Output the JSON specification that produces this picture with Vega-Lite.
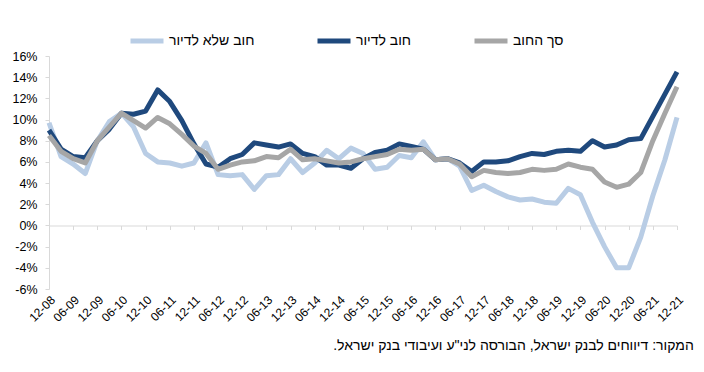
{
  "$schema": "https://vega.github.io/schema/vega-lite/v6.json",
  "width": 628,
  "height": 233,
  "autosize": {"type": "none"},
  "padding": {"left": 49, "top": 56, "right": 27, "bottom": 83},
  "background": "white",
  "config": {"view": {"stroke": null}, "font": "Liberation Sans"},
  "title": {
    "text": "המקור: דיווחים לבנק ישראל, הבורסה לני\"ע ועיבודי בנק ישראל.‏",
    "orient": "bottom",
    "anchor": "end",
    "fontSize": 14,
    "fontWeight": "normal",
    "font": "Liberation Sans",
    "color": "black",
    "offset": 16,
    "dx": 9
  },
  "data": {
    "values": [
      {"q": "12-08", "n": 9.7, "h": 9.0, "t": 8.5},
      {"q": "03-09", "n": 6.5, "h": 7.2, "t": 7.0},
      {"q": "06-09", "n": 5.8, "h": 6.5, "t": 6.3},
      {"q": "09-09", "n": 4.9, "h": 6.4, "t": 5.9},
      {"q": "12-09", "n": 8.0, "h": 8.0, "t": 8.0},
      {"q": "03-10", "n": 9.8, "h": 9.1, "t": 9.3},
      {"q": "06-10", "n": 10.6, "h": 10.6, "t": 10.6},
      {"q": "09-10", "n": 9.3, "h": 10.5, "t": 9.9},
      {"q": "12-10", "n": 6.8, "h": 10.8, "t": 9.2},
      {"q": "03-11", "n": 6.0, "h": 12.8, "t": 10.2},
      {"q": "06-11", "n": 5.9, "h": 11.7, "t": 9.6},
      {"q": "09-11", "n": 5.6, "h": 9.9, "t": 8.6},
      {"q": "12-11", "n": 5.9, "h": 7.7, "t": 7.5},
      {"q": "03-12", "n": 7.8, "h": 5.8, "t": 6.8},
      {"q": "06-12", "n": 4.8, "h": 5.5, "t": 5.3},
      {"q": "09-12", "n": 4.7, "h": 6.3, "t": 5.7},
      {"q": "12-12", "n": 4.8, "h": 6.7, "t": 6.0},
      {"q": "03-13", "n": 3.4, "h": 7.8, "t": 6.1},
      {"q": "06-13", "n": 4.7, "h": 7.6, "t": 6.5},
      {"q": "09-13", "n": 4.8, "h": 7.4, "t": 6.4},
      {"q": "12-13", "n": 6.3, "h": 7.7, "t": 7.2},
      {"q": "03-14", "n": 5.0, "h": 6.8, "t": 6.2},
      {"q": "06-14", "n": 5.9, "h": 6.5, "t": 6.3},
      {"q": "09-14", "n": 7.1, "h": 5.7, "t": 6.1},
      {"q": "12-14", "n": 6.3, "h": 5.7, "t": 5.9},
      {"q": "03-15", "n": 7.3, "h": 5.4, "t": 6.0},
      {"q": "06-15", "n": 6.8, "h": 6.3, "t": 6.3},
      {"q": "09-15", "n": 5.3, "h": 6.9, "t": 6.5},
      {"q": "12-15", "n": 5.5, "h": 7.1, "t": 6.7},
      {"q": "03-16", "n": 6.6, "h": 7.7, "t": 7.2},
      {"q": "06-16", "n": 6.4, "h": 7.45, "t": 7.1},
      {"q": "09-16", "n": 7.9, "h": 7.2, "t": 7.2},
      {"q": "12-16", "n": 6.2, "h": 6.2, "t": 6.2},
      {"q": "03-17", "n": 6.3, "h": 6.3, "t": 6.3},
      {"q": "06-17", "n": 5.6, "h": 5.9, "t": 5.8},
      {"q": "09-17", "n": 3.3, "h": 5.1, "t": 4.6},
      {"q": "12-17", "n": 3.8, "h": 6.0, "t": 5.2},
      {"q": "03-18", "n": 3.2, "h": 6.0, "t": 5.0},
      {"q": "06-18", "n": 2.7, "h": 6.1, "t": 4.9},
      {"q": "09-18", "n": 2.4, "h": 6.5, "t": 5.0},
      {"q": "12-18", "n": 2.5, "h": 6.8, "t": 5.3},
      {"q": "03-19", "n": 2.2, "h": 6.7, "t": 5.2},
      {"q": "06-19", "n": 2.1, "h": 7.0, "t": 5.3},
      {"q": "09-19", "n": 3.5, "h": 7.1, "t": 5.8},
      {"q": "12-19", "n": 2.9, "h": 7.0, "t": 5.5},
      {"q": "03-20", "n": 0.3, "h": 8.0, "t": 5.3},
      {"q": "06-20", "n": -2.0, "h": 7.4, "t": 4.1},
      {"q": "09-20", "n": -4.0, "h": 7.6, "t": 3.6},
      {"q": "12-20", "n": -4.0, "h": 8.1, "t": 3.9},
      {"q": "03-21", "n": -1.1, "h": 8.2, "t": 5.0},
      {"q": "06-21", "n": 2.8, "h": 10.3, "t": 8.0},
      {"q": "09-21", "n": 6.2, "h": 12.4, "t": 10.6},
      {"q": "12-21", "n": 10.2, "h": 14.5, "t": 13.1}
    ]
  },
  "transform": [{"fold": ["n", "h", "t"], "as": ["s", "v"]}],
  "layer": [
    {
      "mark": {"type": "point", "opacity": 0},
      "encoding": {
        "x": {
          "field": "q",
          "type": "ordinal",
          "sort": null,
          "scale": {"type": "point", "padding": 0},
          "axis": {
            "orient": "bottom",
            "offset": -63.5,
            "labels": false,
            "domain": true,
            "domainColor": "#D9D9D9",
            "domainWidth": 1,
            "ticks": true,
            "tickColor": "#D9D9D9",
            "tickSize": 4,
            "grid": false,
            "title": null,
            "values": ["12-08","06-09","12-09","06-10","12-10","06-11","12-11","06-12","12-12","06-13","12-13","06-14","12-14","06-15","12-15","06-16","12-16","06-17","12-17","06-18","12-18","06-19","12-19","06-20","12-20","06-21","12-21"]
          }
        }
      }
    },
    {
      "mark": {"type": "line", "strokeWidth": 5, "strokeJoin": "round"},
      "encoding": {
        "x": {
          "field": "q",
          "type": "ordinal",
          "sort": null,
          "scale": {"type": "point", "padding": 0},
          "axis": {
            "orient": "bottom",
            "domain": false,
            "ticks": false,
            "grid": false,
            "title": null,
            "labelAngle": -45,
            "labelFontSize": 12,
            "labelColor": "black",
            "labelPadding": 5,
            "values": ["12-08","06-09","12-09","06-10","12-10","06-11","12-11","06-12","12-12","06-13","12-13","06-14","12-14","06-15","12-15","06-16","12-16","06-17","12-17","06-18","12-18","06-19","12-19","06-20","12-20","06-21","12-21"]
          }
        },
        "y": {
          "field": "v",
          "type": "quantitative",
          "scale": {"domain": [-6, 16], "nice": false, "zero": false},
          "axis": {
            "values": [-6, -4, -2, 0, 2, 4, 6, 8, 10, 12, 14, 16],
            "labelExpr": "datum.value + '%'",
            "grid": false,
            "title": null,
            "domainColor": "#D9D9D9",
            "tickColor": "#D9D9D9",
            "tickSize": 4,
            "labelPadding": 8,
            "labelFontSize": 12.5,
            "labelColor": "black"
          }
        },
        "color": {
          "field": "s",
          "type": "nominal",
          "sort": null,
          "scale": {"domain": ["n", "h", "t"], "range": ["#B9CDE5", "#1F497D", "#A6A6A6"]},
          "legend": {
            "orient": "none",
            "legendX": 79,
            "legendY": -34,
            "direction": "horizontal",
            "title": null,
            "symbolType": "stroke",
            "symbolSize": 1089,
            "symbolStrokeWidth": 5,
            "labelFontSize": 14,
            "labelFont": "Liberation Sans",
            "labelColor": "black",
            "labelOffset": 3,
            "columnPadding": 52,
            "labelExpr": "datum.value == 'n' ? 'חוב שלא לדיור' : datum.value == 'h' ? 'חוב לדיור' : 'סך החוב'"
          }
        }
      }
    }
  ],
  "resolve": {"axis": {"x": "independent"}}
}
